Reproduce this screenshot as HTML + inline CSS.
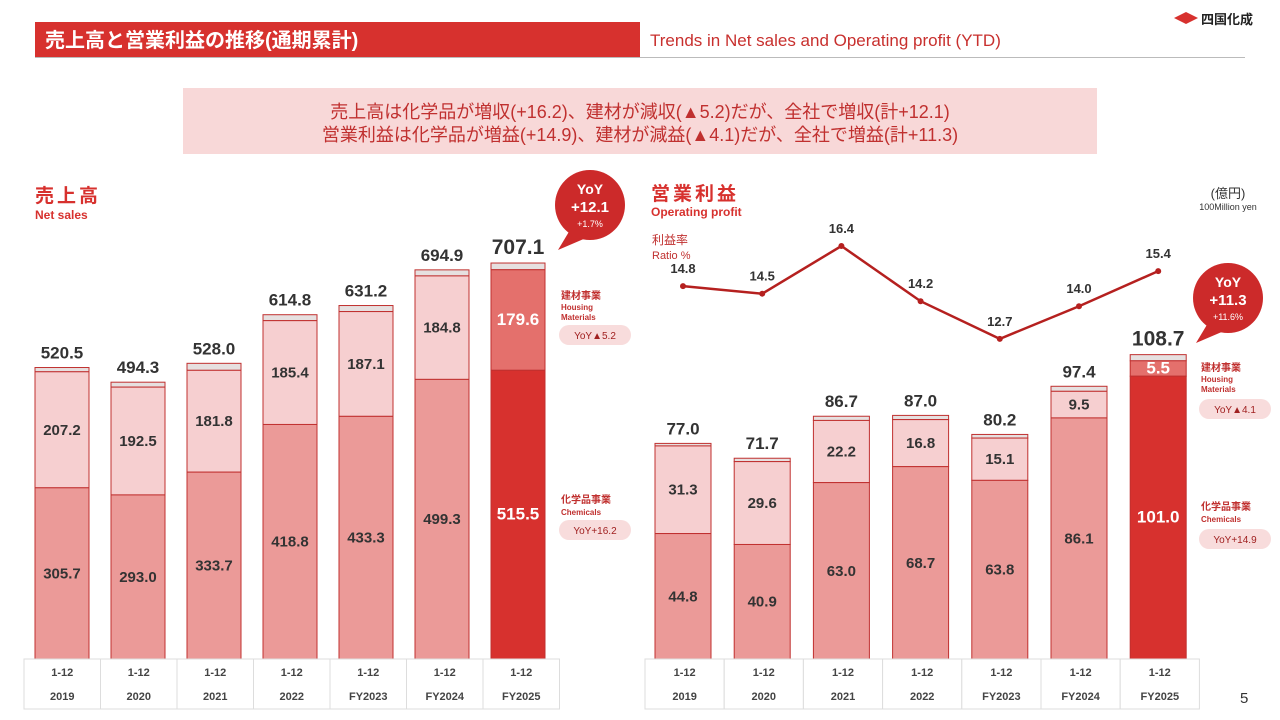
<!DOCTYPE html>
<html><head><meta charset="utf-8"><style>
body{margin:0;width:1280px;height:720px;background:#fff;overflow:hidden;font-family:"Liberation Sans","Noto Sans CJK JP",sans-serif}
svg{position:absolute;left:0;top:0}
</style></head><body>
<svg id="s" width="1280" height="720" xmlns="http://www.w3.org/2000/svg" font-family="Liberation Sans, Noto Sans CJK JP, sans-serif">
<rect x="35" y="22" width="605" height="35" fill="#d7312e"/>
<text x="45" y="47" fill="#fff" font-size="20" font-weight="bold">売上高と営業利益の推移(通期累計)</text>
<text x="650" y="46" fill="#c8302e" font-size="17">Trends in Net sales and Operating profit (YTD)</text>
<line x1="35" y1="57.5" x2="1245" y2="57.5" stroke="#bbb"/>
<g><polygon points="1174,18 1186,12 1198,18 1186,24" fill="#d7312e"/><text x="1201" y="24" font-size="13" font-weight="bold" fill="#222">四国化成</text></g>
<rect x="183" y="88" width="914" height="66" fill="#f8d8d8"/>
<text x="640" y="118" text-anchor="middle" fill="#c0302f" font-size="18">売上高は化学品が増収(+16.2)、建材が減収(▲5.2)だが、全社で増収(計+12.1)</text>
<text x="640" y="141" text-anchor="middle" fill="#c0302f" font-size="18">営業利益は化学品が増益(+14.9)、建材が減益(▲4.1)だが、全社で増益(計+11.3)</text>
<text x="35" y="202" fill="#d7312e" font-size="19" font-weight="bold" letter-spacing="3">売上高</text>
<text x="35" y="219" fill="#d7312e" font-size="12" font-weight="bold">Net sales</text>
<text x="651" y="200" fill="#d7312e" font-size="19" font-weight="bold" letter-spacing="3">営業利益</text>
<text x="651" y="216" fill="#d7312e" font-size="12" font-weight="bold">Operating profit</text>
<text x="1228" y="198" text-anchor="middle" fill="#333" font-size="13">(億円)</text>
<text x="1228" y="210" text-anchor="middle" fill="#333" font-size="9">100Million yen</text>
<text x="652" y="244" fill="#c0302f" font-size="12">利益率</text>
<text x="652" y="259" fill="#c0302f" font-size="11">Ratio %</text>
<text x="1240" y="703" fill="#333" font-size="15">5</text>
</svg>
<script>
const years1=["2019","2020","2021","2022","FY2023","FY2024","FY2025"];
const salesChem=[305.7,293.0,333.7,418.8,433.3,499.3,515.5];
const salesHousing=[207.2,192.5,181.8,185.4,187.1,184.8,179.6];
const salesTotal=[520.5,494.3,528.0,614.8,631.2,694.9,707.1];
const profChem=[44.8,40.9,63.0,68.7,63.8,86.1,101.0];
const profHousing=[31.3,29.6,22.2,16.8,15.1,9.5,5.5];
const profTotal=[77.0,71.7,86.7,87.0,80.2,97.4,108.7];
const ratio=[14.8,14.5,16.4,14.2,12.7,14.0,15.4];
const S=document.getElementById('s');const NS='http://www.w3.org/2000/svg';
function mk(t,a,txt){const e=document.createElementNS(NS,t);for(const k in a)e.setAttribute(k,a[k]);if(txt!==undefined)e.textContent=txt;S.appendChild(e);return e;}
const base=659;
function chart(x0,step,bw,scale,chem,hous,tot,tx0,tw,pre){
 for(let i=0;i<chem.length;i++){
  const cx=x0+i*step, x=cx-bw/2, last=i===chem.length-1;
  const hC=chem[i]*scale,hH=hous[i]*scale,hT=tot[i]*scale;
  let r=mk('rect',{x:x,y:base-hT,width:bw,height:hT-hC-hH,fill:'#e6e0e0',stroke:'#c0302f','stroke-width':1});
  
  r=mk('rect',{x:x,y:base-hC-hH,width:bw,height:hH,fill:last?'#e4706c':'#f6cfd0',stroke:'#c0302f','stroke-width':1});
  
  r=mk('rect',{x:x,y:base-hC,width:bw,height:hC,fill:last?'#d7312e':'#eb9a98',stroke:'#c0302f','stroke-width':1});
  
  const col=last?'#fff':'#333',fs=last?17:15;
  let t=mk('text',{x:cx,y:base-hC/2+5,'text-anchor':'middle','font-size':fs,'font-weight':'bold',fill:col},chem[i].toFixed(1));
  
  t=mk('text',{x:cx,y:base-hC-hH/2+5,'text-anchor':'middle','font-size':fs,'font-weight':'bold',fill:col},hous[i].toFixed(1));
  
  t=mk('text',{x:cx,y:base-hT-9,'text-anchor':'middle','font-size':last?21:17,'font-weight':'bold',fill:'#333'},tot[i].toFixed(1));
  
  const tx=tx0+i*tw;
  const c=mk('rect',{x:tx,y:659,width:tw,height:50,fill:'#fff',stroke:'#ddd'});
  
  t=mk('text',{x:tx+tw/2,y:676,'text-anchor':'middle','font-size':11,'font-weight':'bold',fill:'#444'},'1-12');
  
  t=mk('text',{x:tx+tw/2,y:700,'text-anchor':'middle','font-size':11,'font-weight':'bold',fill:'#444'},years1[i]);
  
 }
}
chart(62,76,54,0.56,salesChem,salesHousing,salesTotal,24,76.5,'sales');
chart(683,79.2,56,2.8,profChem,profHousing,profTotal,645,79.2,'profit');
// ratio line
const ry=v=>246+(16.4-v)*25.1;
let pts=ratio.map((v,i)=>(683+i*79.2)+','+ry(v)).join(' ');
const pl=mk('polyline',{points:pts,fill:'none',stroke:'#b5201f','stroke-width':2.5});

ratio.forEach((v,i)=>{const x=683+i*79.2;
 const c=mk('circle',{cx:x,cy:ry(v),r:3,fill:'#b5201f'});
 
 const t=mk('text',{x:x,y:ry(v)-13,'text-anchor':'middle','font-size':13,'font-weight':'bold',fill:'#333'},v.toFixed(1));
 });
// bubbles
function bubble(cx,cy,a,b,pre){
 const g=mk('path',{d:`M${cx-20},${cy+25} L${cx-32},${cy+45} L${cx-4},${cy+33} Z`,fill:'#cc2a2a'});
 
 const c=mk('circle',{cx:cx,cy:cy,r:35,fill:'#cc2a2a'});
 
 let t=mk('text',{x:cx,y:cy-11,'text-anchor':'middle','font-size':14,'font-weight':'bold',fill:'#fff'},'YoY');
 
 t=mk('text',{x:cx,y:cy+7,'text-anchor':'middle','font-size':15,'font-weight':'bold',fill:'#fff'},a);
 
 t=mk('text',{x:cx,y:cy+22,'text-anchor':'middle','font-size':9,fill:'#fff'},b);
 
}
bubble(590,205,'+12.1','+1.7%','sales');
bubble(1228,298,'+11.3','+11.6%','profit');
function legend(x,y1,y2,pillH,pillC,tH,tC,pre){
 let t=mk('text',{x:x,y:y1,'font-size':10,'font-weight':'bold',fill:'#c0302f'},'建材事業');
 
 t=mk('text',{x:x,y:y1+11,'font-size':8,'font-weight':'bold',fill:'#c0302f'},'Housing');
 
 t=mk('text',{x:x,y:y1+21,'font-size':8,'font-weight':'bold',fill:'#c0302f'},'Materials');
 
 let r=mk('rect',{x:x-2,y:pillH,width:72,height:20,rx:10,fill:'#f8dcdc'});
 
 t=mk('text',{x:x+34,y:pillH+14,'text-anchor':'middle','font-size':10,fill:'#a02020'},tH);
 
 t=mk('text',{x:x,y:y2,'font-size':10,'font-weight':'bold',fill:'#c0302f'},'化学品事業');
 
 t=mk('text',{x:x,y:y2+12,'font-size':8,'font-weight':'bold',fill:'#c0302f'},'Chemicals');
 
 r=mk('rect',{x:x-2,y:pillC,width:72,height:20,rx:10,fill:'#f8dcdc'});
 
 t=mk('text',{x:x+34,y:pillC+14,'text-anchor':'middle','font-size':10,fill:'#a02020'},tC);
 
}
legend(561,299,503,325,520,'YoY▲5.2','YoY+16.2','sales');
legend(1201,371,510,399,529,'YoY▲4.1','YoY+14.9','profit');
</script>
</body></html>
